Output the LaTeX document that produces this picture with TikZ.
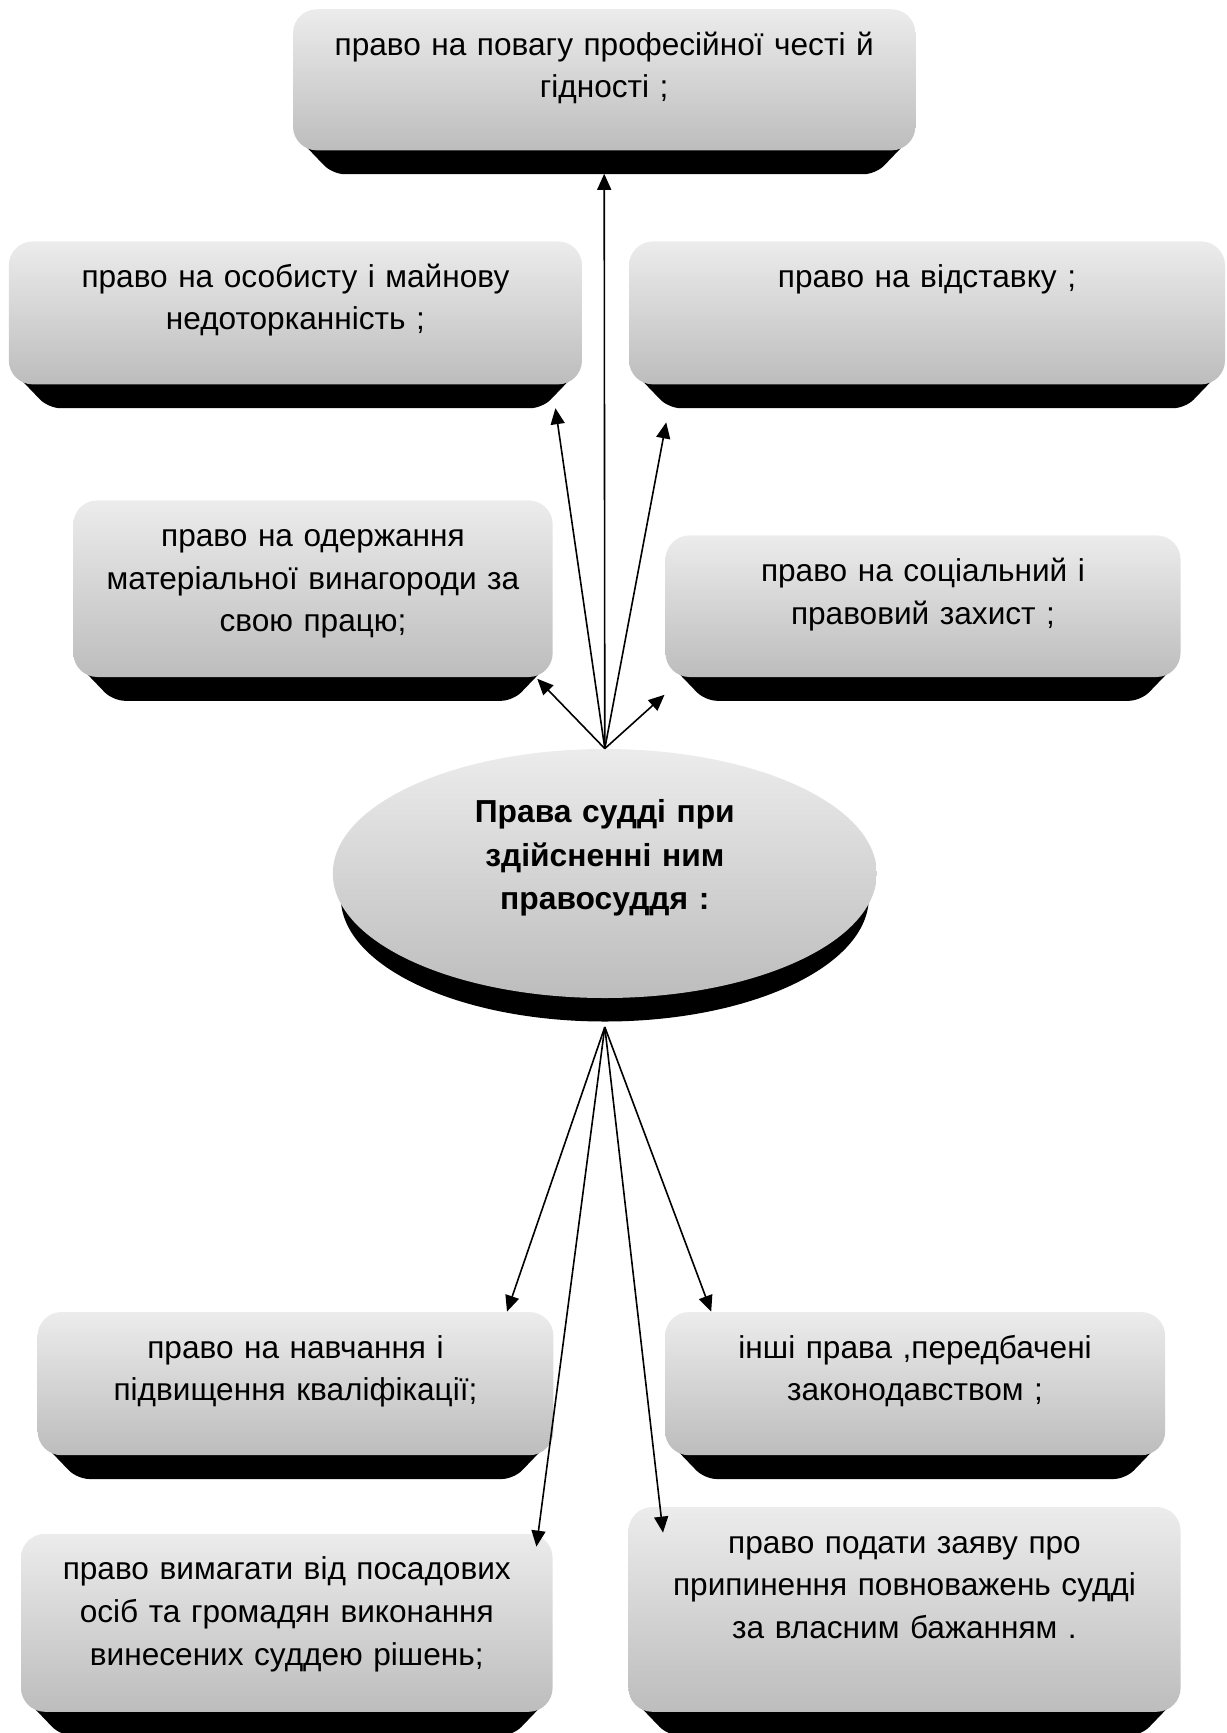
\documentclass[tikz,border=0pt]{standalone}
\usepackage{fontspec}
\setmainfont{Liberation Sans}
\usetikzlibrary{arrows.meta, calc, shapes.geometric, backgrounds}

\begin{document}
\begin{tikzpicture}[
    x=1pt, y=-1pt,
    >={Triangle[length=8pt, width=7pt]},
    box/.style ={rounded corners=12pt, align=center, anchor=north,
                 inner xsep=2pt, inner ysep=0pt, text height=23pt,
                 top color=gray!15, bottom color=gray!52,
                 font=\fontsize{15.8}{21.3}\selectfont},
    hub/.style ={ellipse, align=center, inner sep=0pt,
                 minimum width=272pt, minimum height=124.5pt,
                 text width=180pt, text height=12pt, text depth=63pt,
                 top color=gray!15, bottom color=gray!52,
                 font=\bfseries\fontsize{15.9}{21.8}\selectfont},
    link/.style={->, line width=0.8pt},
]
\useasboundingbox (0,0) rectangle (613,866.5);
% rights above the centre
\node[box, text width=307.2pt, text depth=47.6pt] (respect) at (302.1,4.4)
  {право на повагу професійної честі й\\гідності ;};
\node[box, text width=282.6pt, text depth=48.5pt] (immunity) at (147.7,120.5)
  {право на особисту і майнову\\недоторканність ;};
\node[box, text width=294pt, text depth=48.5pt] (retire) at (463.5,120.5)
  {право на відставку ;};
\node[box, text width=235.7pt, text depth=65.3pt] (salary) at (156.5,250)
  {право на одержання\\матеріальної винагороди за\\свою працю;};
\node[box, text width=253.5pt, text depth=47.8pt] (protect) at (461.5,267.5)
  {право на соціальний і\\правовий захист ;};
% the centre
\node[hub] (judge) at (302.4,436.75)
  {Права судді при\\здійсненні ним\\правосуддя :};
% rights below the centre
\node[box, text width=253.9pt, text depth=48.6pt] (study) at (147.75,655.8)
  {право на навчання і\\підвищення кваліфікації;};
\node[box, text width=246.1pt, text depth=48.6pt] (other) at (457.55,655.8)
  {інші права ,передбачені\\законодавством ;};
\node[box, text width=261.8pt, text depth=66pt] (demand) at (143.4,766.7)
  {право вимагати від посадових\\осіб та громадян виконання\\винесених суддею рішень;};
\node[box, text width=272.1pt, text depth=79.4pt] (resign) at (452.25,753.3)
  {право подати заяву про\\припинення повноважень судді\\за власним бажанням .};

% dark bottom edges
\begin{scope}[on background layer]
  \foreach \b in {respect, immunity, retire, salary, protect, study, other, demand, resign}
    \fill[rounded corners=6pt] ($(\b.south west)+(3,-6)$) -- ($(\b.south west)+(20,11.7)$)
      -- ($(\b.south east)+(-20,11.7)$) -- ($(\b.south east)+(-3,-6)$) -- cycle;
  \fill ($(judge.center)+(0,12)$) ellipse (132pt and 62pt);
\end{scope}

% arrow ends
\coordinate (respect-in) at ($(respect.south)+(0,11.5)$);
\coordinate (immunity-in) at ($(immunity.south east)+(-13.5,11.7)$);
\coordinate (retire-in) at ($(retire.south west)+(18.8,18.8)$);
\coordinate (salary-in) at ($(salary.south east)+(-7.9,0.7)$);
\coordinate (protect-in) at ($(protect.south west)+(-0.3,8.7)$);
\coordinate (judge-out) at ($(judge.south)+(0,14.3)$);
\coordinate (study-in) at ($(study.north east)+(-23.4,0)$);
\coordinate (other-in) at ($(other.north west)+(23.3,0)$);
\coordinate (demand-in) at ($(demand.north east)+(-8.3,6.6)$);
\coordinate (resign-in) at ($(resign.north west)+(17.5,13)$);

\foreach \b in {respect, immunity, retire, salary, protect}
  \draw[link] (judge.north) -- (\b-in);
\foreach \b in {study, other, demand, resign}
  \draw[link] (judge-out) -- (\b-in);
\end{tikzpicture}
\end{document}
